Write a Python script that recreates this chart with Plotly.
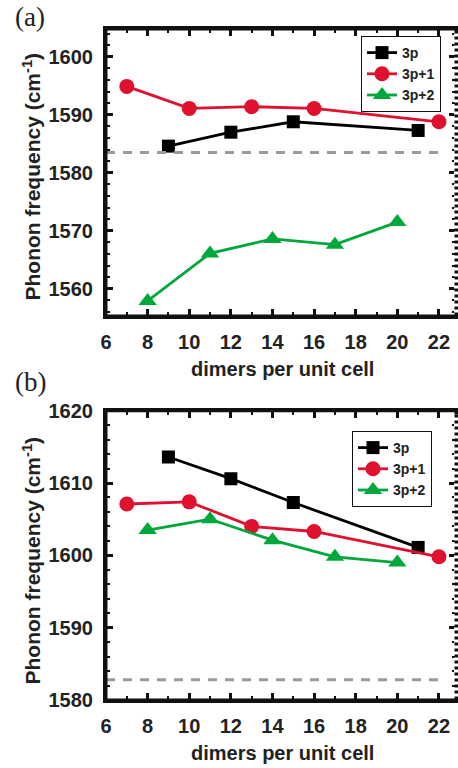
import plotly.graph_objects as go

# ---------------- data ----------------
x_3p = [9, 12, 15, 21]
x_3p1 = [7, 10, 13, 16, 22]
x_3p2 = [8, 11, 14, 17, 20]

a_3p = [1584.6, 1587.0, 1588.8, 1587.3]
a_3p1 = [1594.9, 1591.1, 1591.4, 1591.1, 1588.8]
a_3p2 = [1557.9, 1566.1, 1568.6, 1567.6, 1571.5]

b_3p = [1613.6, 1610.6, 1607.3, 1601.1]
b_3p1 = [1607.1, 1607.4, 1604.0, 1603.3, 1599.8]
b_3p2 = [1603.5, 1605.0, 1602.1, 1599.8, 1599.0]

ref_a = 1583.5
ref_b = 1582.8
ref_x = [6, 22]

series_names = ["3p", "3p+1", "3p+2"]
colors = ["#000000", "#E0102F", "#00A83B"]
symbols = ["square", "circle", "triangle-up"]
msizes = [13, 15, 16]

# ---------------- figure ----------------
W, H = 458, 768
L, R, T, B = 106, 2, 29, 68
plot_h = H - T - B
top_panel_bottom_px = 316
bot_panel_top_px = 410.7
dom_top = [(H - B - top_panel_bottom_px) / plot_h, 1.0]
dom_bot = [0.0, (H - B - bot_panel_top_px) / plot_h]
xrange_all = [6, 6 + (W - L - R) / 20.81]

fig = go.Figure()

panels = [
    (a_3p, a_3p1, a_3p2, "x", "y", "legend"),
    (b_3p, b_3p1, b_3p2, "x2", "y2", "legend2"),
]
for ys3, ys31, ys32, xa, ya, lg in panels:
    for name, xs, ys, c, s, ms in zip(series_names, [x_3p, x_3p1, x_3p2],
                                      [ys3, ys31, ys32], colors, symbols, msizes):
        fig.add_trace(go.Scatter(
            x=xs, y=ys, name=name, mode="lines+markers",
            line=dict(color=c, width=2.8),
            marker=dict(symbol=s, size=ms, color=c, line=dict(width=0)),
            xaxis=xa, yaxis=ya, legend=lg,
        ))

# reference dashed lines
for xa, ya, val in [("x", "y", ref_a), ("x2", "y2", ref_b)]:
    fig.add_trace(go.Scatter(
        x=ref_x, y=[val, val], mode="lines", showlegend=False,
        line=dict(color="#9a9a9a", width=3, dash="9px,8px"),
        xaxis=xa, yaxis=ya, hoverinfo="skip",
    ))

tickfont = dict(family="Liberation Sans, Arial", size=20, color="#222", weight="bold")
minor_x = dict(ticks="inside", ticklen=4, tickwidth=2, tickcolor="#111111", dtick=1, showgrid=False)
minor_y = dict(ticks="inside", ticklen=4, tickwidth=2, tickcolor="#111111", dtick=2, showgrid=False)

xcommon = dict(
    range=xrange_all, tick0=6, dtick=2,
    ticks="inside", ticklen=7, tickwidth=2.5, tickcolor="#111111",
    showline=True, linewidth=3, linecolor="#111111", mirror="ticks",
    showgrid=False, zeroline=False, tickfont=tickfont,
    minor=minor_x, ticklabelstandoff=6, automargin=False,
)
ycommon = dict(
    ticks="inside", ticklen=7, tickwidth=2.5, tickcolor="#111111",
    showline=True, linewidth=3, linecolor="#111111", mirror="ticks",
    showgrid=False, zeroline=False, tickfont=tickfont, dtick=10,
    minor=minor_y, ticklabelstandoff=6, automargin=False,
)
yrange_a = [1555.3, 1604.8]
yrange_b = [1580, 1620]

legfont = dict(family="Liberation Sans, Arial", size=14, color="#222", weight="bold")

fig.update_layout(
    width=W, height=H,
    margin=dict(l=L, r=R, t=T, b=B),
    paper_bgcolor="white", plot_bgcolor="white",
    font=dict(family="Liberation Sans, Arial", color="#222"),
    xaxis=dict(xcommon, domain=[0, 1], anchor="y"),
    yaxis=dict(ycommon, domain=dom_top, anchor="x", range=yrange_a),
    xaxis2=dict(xcommon, domain=[0, 1], anchor="y2"),
    yaxis2=dict(ycommon, domain=dom_bot, anchor="x2", range=yrange_b),
    legend=dict(x=(361 - L) / (W - L - R), y=(H - B - 36) / plot_h, xanchor="left", yanchor="top",
                bordercolor="#111111", borderwidth=1, bgcolor="white",
                font=legfont, tracegroupgap=0, itemwidth=30),
    legend2=dict(x=(352 - L) / (W - L - R), y=(H - B - 431) / plot_h, xanchor="left", yanchor="top",
                 bordercolor="#111111", borderwidth=1, bgcolor="white",
                 font=legfont, tracegroupgap=0, itemwidth=30),
    showlegend=True,
)

# explicit frame as a rectangle, plus dotted right edge (as in the reference)
for xd, yd in [("x domain", "y domain"), ("x2 domain", "y2 domain")]:
    fig.add_shape(type="rect", xref=xd, yref=yd, x0=0, x1=1, y0=0, y1=1,
                  line=dict(color="#111111", width=3), fillcolor="rgba(0,0,0,0)", layer="above")
    fig.add_shape(type="line", xref=xd, yref=yd, x0=1, x1=1, y0=0.012, y1=0.988,
                  line=dict(color="white", width=4, dash="3px,3px"), layer="above")

def px_x(p):
    return (p - L) / (W - L - R)

def px_y(p):
    return (H - B - p) / plot_h

titlefont = dict(family="Liberation Sans, Arial", size=20, color="#222", weight="bold")
ann = [
    dict(text="Phonon frequency (cm<sup>-1</sup>)", x=px_x(31), y=px_y(176.5), textangle=-90, size=21),
    dict(text="Phonon frequency (cm<sup>-1</sup>)", x=px_x(31), y=px_y(560.5), textangle=-90, size=21),
    dict(text="dimers per unit cell", x=px_x(282), y=px_y(369), textangle=0, size=20),
    dict(text="dimers per unit cell", x=px_x(282), y=px_y(753), textangle=0, size=20),
]
for a in ann:
    f = dict(titlefont, size=a.pop("size"))
    fig.add_annotation(xref="paper", yref="paper", xanchor="center", yanchor="middle",
                       showarrow=False, font=f, **a)

for lab, yc in [("(a)", 17), ("(b)", 382)]:
    fig.add_annotation(text=lab, xref="paper", yref="paper", x=px_x(13), y=px_y(yc),
                       xanchor="left", yanchor="middle", showarrow=False,
                       font=dict(family="Liberation Serif, Times New Roman", size=27, color="#222"))

fig.write_html("out.html", config={"displayModeBar": False},
               post_script="document.body.style.margin='0';document.body.style.padding='0';")
